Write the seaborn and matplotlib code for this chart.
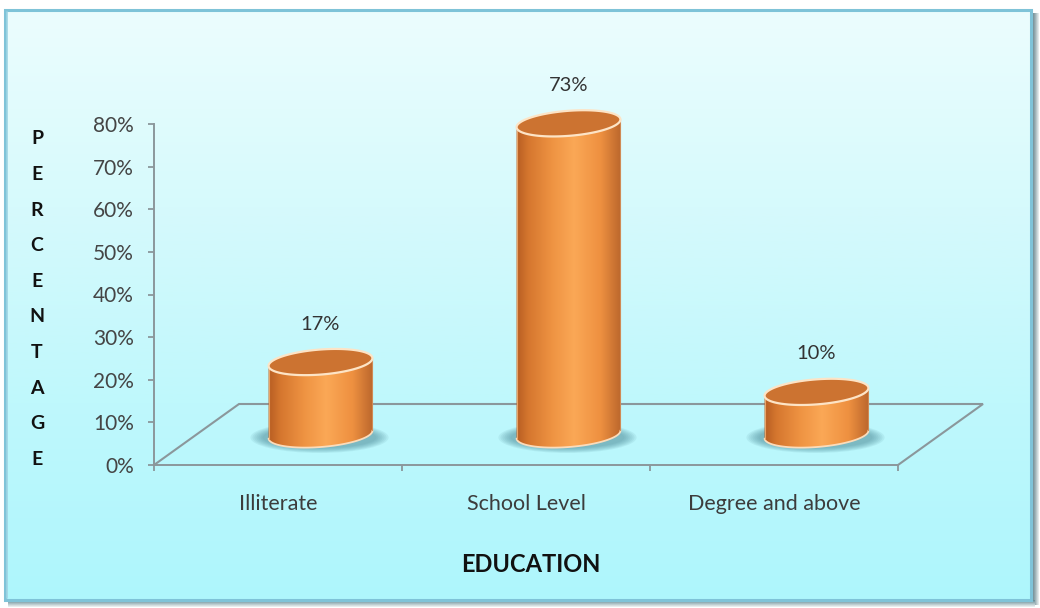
import numpy as np
import matplotlib
matplotlib.use("Agg")
import matplotlib.pyplot as plt
import seaborn as sns
from matplotlib.colors import LinearSegmentedColormap
from matplotlib.patches import Polygon, Rectangle, Ellipse
from matplotlib.ticker import PercentFormatter, FixedLocator

# ---- data -------------------------------------------------------------
categories = ["Illiterate", "School Level", "Degree and above"]
percentages = [17, 73, 10]
y_ticks = [0, 10, 20, 30, 40, 50, 60, 70, 80]
x_title = "EDUCATION"
y_title = "PERCENTAGE"

# ---- figure -----------------------------------------------------------
W, H = 1040, 608
sns.set_theme(style="white")
plt.rcParams["font.family"] = ["Lato", "DejaVu Sans"]

fig = plt.figure(figsize=(W / 100, H / 100), dpi=100, facecolor="white")

# backdrop panel, drawn in pixel units (y downwards)
bg = fig.add_axes([0, 0, 1, 1], zorder=0)
bg.set_autoscale_on(False)
bg.set_xlim(0, W)
bg.set_ylim(H, 0)
bg.axis("off")

fl, fr, ft, fb = 5, 1031, 10, 600
panel_cmap = LinearSegmentedColormap.from_list(
    "panel", ["#ecfdfe", "#d6fafc", "#bff8fc", "#aef6fd"])
bg.imshow(np.linspace(0, 1, 256).reshape(-1, 1), cmap=panel_cmap,
          extent=(fl, fr, fb, ft), aspect="auto", origin="upper",
          interpolation="bilinear")
# right and bottom drop shadow
shadow_r = LinearSegmentedColormap.from_list("sr", ["#56747e", "#95aab0", "#eef2f3"])
bg.imshow(np.linspace(0, 1, 64).reshape(1, -1), cmap=shadow_r,
          extent=(fr, fr + 8, fb + 5, ft + 3), aspect="auto",
          interpolation="bilinear")
shadow_b = LinearSegmentedColormap.from_list("sb", ["#628994", "#a9bec3", "#f2f5f6"])
bg.imshow(np.linspace(0, 1, 64).reshape(-1, 1), cmap=shadow_b,
          extent=(fl + 3, fr + 4, fb + 7, fb), aspect="auto", origin="upper",
          interpolation="bilinear")
bg.add_patch(Rectangle((fl, ft), fr - fl, fb - ft, fill=False,
                       edgecolor="#7fc3d8", lw=2.2))
bg.plot([fl + 2, fl + 2], [ft + 2, fb - 2], color="#9fd4e4", lw=1.2)

# ---- main axes ---------------------------------------------------------
ax = fig.add_axes([154 / W, 1 - 465 / H, 744 / W, 341 / H], zorder=1)
ax.patch.set_alpha(0)
sns.barplot(x=categories, y=percentages, width=0.42, color="#f39a48", ax=ax)
ax.set_xlim(-0.5, 2.5)
ax.set_ylim(0, 80)
ax.set_xlabel("")
ax.set_ylabel("")
ax.grid(False)

axis_grey = "#8b979b"
ax.yaxis.set_major_locator(FixedLocator(y_ticks))
ax.yaxis.set_major_formatter(PercentFormatter(decimals=0))
ax.set_xticks(range(len(categories)), categories)
ax.set_xticks([i - 0.5 for i in range(len(categories) + 1)], minor=True)
ax.tick_params(axis="x", which="major", bottom=False, length=0, pad=21,
               labelsize=15.5, labelcolor="#3c3c3c")
ax.tick_params(axis="x", which="minor", bottom=True, length=4.5, width=1.3,
               color=axis_grey, direction="out")
ax.tick_params(axis="y", which="major", left=True, length=4.5, width=1.3,
               color=axis_grey, pad=10, labelsize=15, labelcolor="#454545",
               direction="out")
for s in ("top", "right"):
    ax.spines[s].set_visible(False)
for s in ("left", "bottom"):
    ax.spines[s].set_color(axis_grey)
    ax.spines[s].set_linewidth(1.4)

# ---- 3-D decoration layer (pixel units, y downwards) -------------------
ov = fig.add_axes([0, 0, 1, 1], zorder=2)
ov.set_autoscale_on(False)
ov.set_xlim(0, W)
ov.set_ylim(H, 0)
ov.axis("off")
ov.patch.set_alpha(0)


def to_px(x, y):
    X, Y = ax.transData.transform((x, y))
    return X, H - Y


depth_dx, depth_dy = 85, -61  # floor depth in pixels
x_lo, x_hi = ax.get_xlim()
fl_x, fl_y = to_px(x_lo, 0)
fr_x, fr_y = to_px(x_hi, 0)
ov.plot([fl_x, fl_x + depth_dx, fr_x + depth_dx, fr_x],
        [fl_y, fl_y + depth_dy, fr_y + depth_dy, fr_y],
        color=axis_grey, lw=1.5, zorder=1, solid_joinstyle="miter")


def ellipse_pts(cx, cy, a, b, theta, t):
    ux, uy = a * np.cos(t), b * np.sin(t)
    rx = ux * np.cos(theta) - uy * np.sin(theta)
    ry = ux * np.sin(theta) + uy * np.cos(theta)
    return np.column_stack([cx + rx, cy - ry])


body_cmap = LinearSegmentedColormap.from_list(
    "body", [(0.0, "#b65d22"), (0.12, "#d6772f"), (0.35, "#ef9443"),
             (0.55, "#fba856"), (0.8, "#ee9040"), (1.0, "#b9652b")])
tilt = np.deg2rad(4.5)
semi_minor = 12.5

for p, value in zip(list(ax.patches), percentages):
    x0, w, h = p.get_x(), p.get_width(), p.get_height()
    left, base = to_px(x0, 0)
    right, _ = to_px(x0 + w, 0)
    _, top = to_px(x0, h)
    p.set_visible(False)

    cx = (left + right) / 2 + depth_dx / 2
    base_y = base + depth_dy / 2
    top_y = top + depth_dy / 2
    a = (right - left) / 2

    # soft floor shadow
    for k in range(7):
        ov.add_patch(Ellipse((cx - 1, base_y + 3), 2 * a + 34 - 4 * k,
                             2 * semi_minor + 6 - 1.6 * k,
                             angle=0, facecolor="#4a8893", edgecolor="none",
                             alpha=0.1, zorder=2))

    lower = ellipse_pts(cx, base_y, a, semi_minor, tilt,
                        np.linspace(np.pi, 2 * np.pi, 80))
    upper = ellipse_pts(cx, top_y, a, semi_minor, tilt,
                        np.linspace(0, np.pi, 80))
    outline = np.vstack([lower, upper])
    body = Polygon(outline, closed=True, facecolor="none", edgecolor="none",
                   zorder=3)
    ov.add_patch(body)
    img = ov.imshow(np.linspace(0, 1, 256).reshape(1, -1), cmap=body_cmap,
                    extent=(outline[:, 0].min() - 1, outline[:, 0].max() + 1,
                            outline[:, 1].max() + 1, outline[:, 1].min() - 1),
                    aspect="auto", interpolation="bilinear", zorder=3)
    img.set_clip_path(body)
    ov.plot(lower[:, 0], lower[:, 1], color="#fbdcbb", lw=1.3, zorder=4)
    ov.plot([lower[0, 0], upper[-1, 0]], [lower[0, 1], upper[-1, 1]],
            color="#e9a468", lw=0.8, zorder=4)
    ov.plot([lower[-1, 0], upper[0, 0]], [lower[-1, 1], upper[0, 1]],
            color="#d08a55", lw=0.8, zorder=4)

    cap = ellipse_pts(cx, top_y, a, semi_minor, tilt,
                      np.linspace(0, 2 * np.pi, 160))
    ov.add_patch(Polygon(cap, closed=True, facecolor="#cc7331",
                         edgecolor="#fde4c6", lw=1.6, zorder=5))

    ov.text(cx, top_y - 38, f"{value}%", ha="center", va="center",
            fontsize=14.5, color="#333333", zorder=6)

# ---- axis titles -------------------------------------------------------
ov.text(531, 565, x_title, ha="center", va="center", fontsize=17,
        fontweight="bold", color="#111111")
for i, ch in enumerate(y_title):
    ov.text(37, 139 + i * 35.6, ch, ha="center", va="center", fontsize=14,
            fontweight="bold", color="#111111")

fig.savefig("out.png", dpi=100, facecolor="white")
